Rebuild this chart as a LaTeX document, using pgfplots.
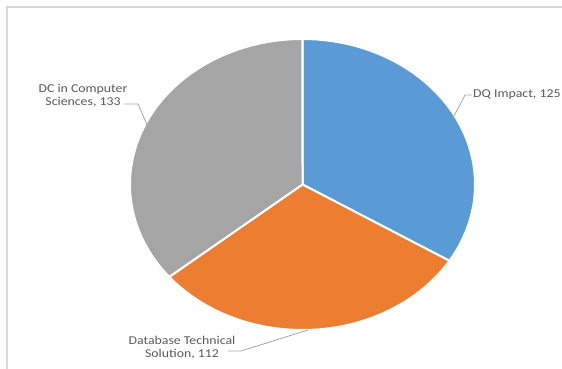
\documentclass[border=0pt]{standalone}
\usepackage{pgfplots}
\pgfplotsset{compat=1.18}
\usepackage{pgfplotstable}
\usepackage{fontspec}
\setmainfont{Carlito}
\definecolor{cblue}{HTML}{5B9BD5}
\definecolor{corange}{HTML}{ED7D31}
\definecolor{cgray}{HTML}{A5A5A5}
\definecolor{ctext}{HTML}{595959}
\definecolor{cline}{HTML}{A6A6A6}
\definecolor{cframe}{HTML}{D9D9D9}
\pgfplotstableread{
label value
DQImpact 125
DatabaseTechnicalSolution 112
DQinComputerSciences 133
}\piedata
\begin{document}
\begin{tikzpicture}
\pgfplotstablegetelem{0}{value}\of\piedata \let\vA\pgfplotsretval
\pgfplotstablegetelem{1}{value}\of\piedata \let\vB\pgfplotsretval
\pgfplotstablegetelem{2}{value}\of\piedata \let\vC\pgfplotsretval
\pgfmathsetmacro{\tot}{\vA+\vB+\vC}
\pgfmathsetmacro{\aA}{90}
\pgfmathsetmacro{\aB}{90-360*(\vA/\tot)}
\pgfmathsetmacro{\aC}{\aB-360*(\vB/\tot)}
\pgfmathsetmacro{\aD}{\aC-360*(\vC/\tot)}
\clip (0,0) rectangle (562pt,369pt);
\begin{axis}[scale only axis, width=562pt, height=369pt,
  xmin=0, xmax=562, ymin=0, ymax=369, y dir=reverse,
  hide axis, clip=false, at={(0,0)}, anchor=south west]
\addplot[fill=cblue, draw=white, line width=2pt, line join=round, domain=\aB:\aA, samples=90, variable=\t]
  ({302.5+172.5*cos(\t)},{184.5-145.5*sin(\t)}) -- (axis cs:302.5,184.5) -- cycle;
\addplot[fill=corange, draw=white, line width=2pt, line join=round, domain=\aC:\aB, samples=90, variable=\t]
  ({302.5+172.5*cos(\t)},{184.5-145.5*sin(\t)}) -- (axis cs:302.5,184.5) -- cycle;
\addplot[fill=cgray, draw=white, line width=2pt, line join=round, domain=\aD:\aC, samples=90, variable=\t]
  ({302.5+172.5*cos(\t)},{184.5-145.5*sin(\t)}) -- (axis cs:302.5,184.5) -- cycle;
\draw[cframe, line width=2pt] (axis cs:7,369) -- (axis cs:7,7.5) -- (axis cs:562,7.5);
\draw[cline, line width=0.8pt] (axis cs:124,104) -- (axis cs:138,104) -- (axis cs:148,127);
\draw[cline, line width=0.8pt] (axis cs:472,95) -- (axis cs:465,95) -- (axis cs:453,118);
\draw[cline, line width=0.8pt] (axis cs:228,351) -- (axis cs:241,351) -- (axis cs:308,330);
\node[anchor=base, align=center, text=ctext, xscale=1.15, inner sep=0pt,
  font=\fontsize{12pt}{12.5pt}\selectfont] at (axis cs:83,105) {DC in Computer\\Sciences, 133};
\node[anchor=base, align=center, text=ctext, xscale=1.15, inner sep=0pt,
  font=\fontsize{12pt}{13pt}\selectfont] at (axis cs:182,357) {Database Technical\\Solution, 112};
\node[anchor=base west, text=ctext, xscale=1.15, inner sep=0pt,
  font=\fontsize{12pt}{13pt}\selectfont] at (axis cs:473,97) {DQ Impact, 125};
\end{axis}
\end{tikzpicture}
\end{document}
